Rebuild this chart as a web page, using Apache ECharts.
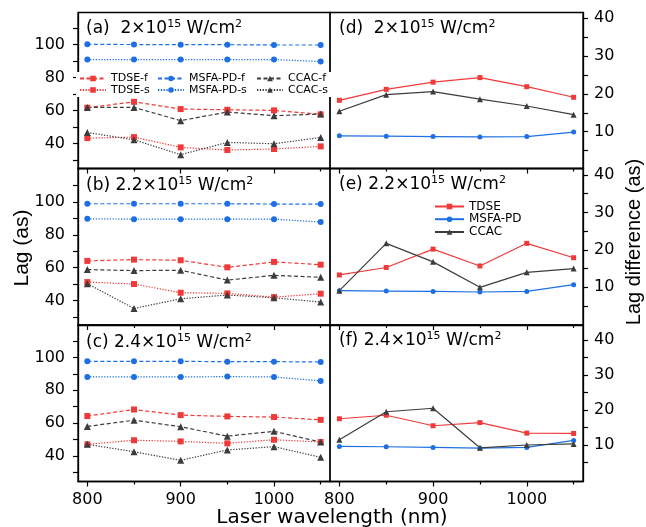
<!DOCTYPE html>
<html><head><meta charset="utf-8">
<script src="https://cdn.jsdelivr.net/npm/echarts@6/dist/echarts.min.js"></script>
<style>html,body{margin:0;padding:0;background:#fff}#c{width:646px;height:527px}</style>
</head><body><div id="c"></div>
<script>
// ---- data ----
const wavelengths = [800, 850, 900, 950, 1000, 1050];
const xTickLabels = [800, 900, 1000];

// (a) 2x10^15
const a_TDSE_f = [61.8, 65.4, 61.0, 60.6, 60.2, 57.8];
const a_TDSE_s = [43.4, 44.0, 37.8, 36.2, 36.8, 38.4];
const a_MSFA_f = [100.2, 100.1, 100.0, 100.0, 99.8, 99.8];
const a_MSFA_s = [91.0, 91.0, 91.0, 91.0, 91.0, 89.8];
const a_CCAC_f = [62.0, 62.0, 54.0, 59.2, 57.0, 58.0];
const a_CCAC_s = [46.8, 42.4, 33.4, 40.8, 40.0, 43.8];
// (b) 2.2x10^15
const b_TDSE_f = [64.1, 64.9, 64.5, 60.2, 63.5, 61.8];
const b_TDSE_s = [51.2, 50.0, 44.7, 44.3, 42.0, 44.1];
const b_MSFA_f = [99.0, 99.0, 99.0, 99.0, 98.8, 98.8];
const b_MSFA_s = [89.8, 89.6, 89.6, 89.6, 89.6, 87.8];
const b_CCAC_f = [58.8, 58.2, 58.4, 52.4, 55.3, 54.1];
const b_CCAC_s = [50.2, 35.1, 41.0, 43.3, 41.6, 39.0];
// (c) 2.4x10^15
const c_TDSE_f = [64.3, 68.3, 64.9, 64.1, 63.7, 62.0];
const c_TDSE_s = [47.1, 49.6, 48.9, 47.7, 49.9, 48.5];
const c_MSFA_f = [97.6, 97.6, 97.6, 97.4, 97.4, 97.2];
const c_MSFA_s = [88.1, 88.1, 88.1, 88.3, 88.1, 85.7];
const c_CCAC_f = [58.0, 61.8, 57.8, 52.1, 55.0, 48.5];
const c_CCAC_s = [47.1, 42.6, 37.4, 43.7, 45.7, 39.2];
// (d) lag difference 2x10^15
const d_TDSE = [18.3, 21.2, 23.1, 24.3, 21.9, 19.1];
const d_MSFA = [8.9, 8.8, 8.7, 8.6, 8.7, 9.9];
const d_CCAC = [15.4, 19.8, 20.6, 18.6, 16.8, 14.5];
// (e) 2.2x10^15
const e_TDSE = [13.3, 15.3, 20.2, 15.7, 21.75, 17.9];
const e_MSFA = [9.1, 9.0, 8.9, 8.75, 8.9, 10.7];
const e_CCAC = [9.1, 21.75, 16.8, 10.0, 14.0, 15.0];
// (f) 2.4x10^15
const f_TDSE = [17.5, 18.5, 15.5, 16.4, 13.4, 13.3];
const f_MSFA = [9.6, 9.5, 9.3, 9.1, 9.3, 11.3];
const f_CCAC = [11.5, 19.5, 20.5, 9.2, 10.0, 10.3];

const lagTicks = [30, 40, 50, 60, 70, 80, 90, 100, 110];
const lagLabels = [40, 60, 80, 100];
const diffTicks = [5, 10, 15, 20, 25, 30, 35, 40];
const diffLabels = [10, 20, 30, 40];

const panelTitles = [
  '(a)  2×10{sup|15} W/cm{sup|2}',
  '(b) 2.2×10{sup|15} W/cm{sup|2}',
  '(c) 2.4×10{sup|15} W/cm{sup|2}',
  '(d)  2×10{sup|15} W/cm{sup|2}',
  '(e) 2.2×10{sup|15} W/cm{sup|2}',
  '(f) 2.4×10{sup|15} W/cm{sup|2}'
];

// ---- styles ----
const RED = '#F03A3A', BLUE = '#1E6FE3', GREY = '#3C3C3C';
const FONT = 'DejaVu Sans';
const DASH = [4, 2.5], DOT = [1.3, 1.5];
const plain = v => String(Math.round(v));

const grids = [
  {left: 78, top: 12.5, width: 252, height: 156},
  {left: 78, top: 168.5, width: 252, height: 156.5},
  {left: 78, top: 325, width: 252, height: 156.5},
  {left: 330, top: 12.5, width: 253, height: 156},
  {left: 330, top: 168.5, width: 253, height: 156.5},
  {left: 330, top: 325, width: 253, height: 156.5}
].map(g => Object.assign(g, {show: true, borderColor: '#000', borderWidth: 1.3, backgroundColor: 'transparent', containLabel: false}));

const yRanges = [[25, 119.5], [25, 120.5], [24.5, 119.7], [0.26, 41.53], [-0.07, 41.74], [-0.43, 44.29]];

const xAxes = [];
for (let i = 0; i < 6; i++) {
  const bottom = (i === 2 || i === 5);
  xAxes.push({
    type: 'value', gridIndex: i, min: 790, max: 1060, position: 'bottom',
    splitLine: {show: false},
    axisLine: {show: true, onZero: false, lineStyle: {color: '#000', width: 1.3}},
    axisTick: {show: true, inside: false, length: 5, customValues: xTickLabels, lineStyle: {color: '#000', width: 1.2}},
    axisLabel: {show: bottom, customValues: xTickLabels, formatter: plain, margin: 10, fontFamily: FONT, fontSize: 16, color: '#000'}
  });
}
for (let i = 0; i < 6; i++) {
  xAxes.push({
    type: 'value', gridIndex: i, min: 790, max: 1060, position: 'bottom',
    splitLine: {show: false},
    axisLine: {show: false, onZero: false},
    axisTick: {show: true, inside: false, length: 3, customValues: [850, 950, 1050], lineStyle: {color: '#000', width: 1.2}},
    axisLabel: {show: false, customValues: [850, 950, 1050]}
  });
}

const yAxes = [];
for (let i = 0; i < 6; i++) {
  const left = i < 3;
  yAxes.push({
    type: 'value', gridIndex: i, min: yRanges[i][0], max: yRanges[i][1],
    position: left ? 'left' : 'right',
    splitLine: {show: false},
    axisLine: {show: true, onZero: false, lineStyle: {color: '#000', width: 1.3}},
    axisTick: {show: true, inside: false, length: 5, customValues: left ? lagTicks : diffTicks, lineStyle: {color: '#000', width: 1.2}},
    axisLabel: {show: true, customValues: left ? lagLabels : diffLabels, formatter: plain, margin: left ? 13 : 11, fontFamily: FONT, fontSize: 16, color: '#000'}
  });
}

function mk(name, idx, ys, color, symbol, size, type) {
  return {
    name: name, type: 'line', xAxisIndex: idx, yAxisIndex: idx,
    data: wavelengths.map((w, k) => [w, ys[k]]),
    symbol: symbol, symbolSize: size,
    lineStyle: {color: color, width: 1.2, type: type},
    itemStyle: {color: color},
    emphasis: {disabled: true},
    animation: false
  };
}

const series = [];
const leftSets = [
  [a_TDSE_f, a_TDSE_s, a_MSFA_f, a_MSFA_s, a_CCAC_f, a_CCAC_s],
  [b_TDSE_f, b_TDSE_s, b_MSFA_f, b_MSFA_s, b_CCAC_f, b_CCAC_s],
  [c_TDSE_f, c_TDSE_s, c_MSFA_f, c_MSFA_s, c_CCAC_f, c_CCAC_s]
];
leftSets.forEach((s, i) => {
  series.push(mk('TDSE-f', i, s[0], RED, 'rect', 6, DASH));
  series.push(mk('TDSE-s', i, s[1], RED, 'rect', 6, DOT));
  series.push(mk('MSFA-PD-f', i, s[2], BLUE, 'circle', 6, DASH));
  series.push(mk('MSFA-PD-s', i, s[3], BLUE, 'circle', 6, DOT));
  series.push(mk('CCAC-f', i, s[4], GREY, 'triangle', 7, DASH));
  series.push(mk('CCAC-s', i, s[5], GREY, 'triangle', 7, DOT));
});
const rightSets = [[d_TDSE, d_MSFA, d_CCAC], [e_TDSE, e_MSFA, e_CCAC], [f_TDSE, f_MSFA, f_CCAC]];
rightSets.forEach((s, j) => {
  const i = j + 3;
  series.push(mk('TDSE', i, s[0], RED, 'rect', 5, 'solid'));
  series.push(mk('MSFA-PD', i, s[1], BLUE, 'circle', 5, 'solid'));
  series.push(mk('CCAC', i, s[2], GREY, 'triangle', 6, 'solid'));
});

function leg(name, left, top, w, fs) {
  return {
    data: [name], left: left, top: top, padding: 0, itemWidth: w, itemHeight: 7,
    selectedMode: false, z: 60,
    textStyle: {fontFamily: FONT, fontSize: fs, color: '#000'}
  };
}
const legends = [
  leg('TDSE-f', 79, 73, 26, 11), leg('MSFA-PD-f', 157, 73, 26, 11), leg('CCAC-f', 256, 73, 26, 11),
  leg('TDSE-s', 79, 84.5, 26, 11), leg('MSFA-PD-s', 157, 84.5, 26, 11), leg('CCAC-s', 256, 84.5, 26, 11),
  leg('TDSE', 434, 200.5, 29, 12), leg('MSFA-PD', 434, 213.2, 29, 12), leg('CCAC', 434, 226, 29, 12)
];

const titlePos = [[86, 28.5], [86, 185.5], [86, 342.5], [339, 28.5], [339, 185], [339, 341]];
const graphics = [
  {type: 'rect', shape: {x: 76, y: 72, width: 255, height: 25}, style: {fill: '#fff'}, z: 50}
];
panelTitles.forEach((t, i) => {
  graphics.push({
    type: 'text', x: titlePos[i][0], y: titlePos[i][1], z: 70,
    style: {
      text: t, fill: '#000', font: '17px "DejaVu Sans"', align: 'left', verticalAlign: 'middle',
      lineHeight: 20,
      rich: {sup: {fontSize: 11, fontFamily: FONT, verticalAlign: 'top', lineHeight: 12, fill: '#000'}}
    }
  });
});
graphics.push({type: 'text', x: 332, y: 518, z: 70,
  style: {text: 'Laser wavelength (nm)', fill: '#000', font: '20px "DejaVu Sans"', align: 'center', verticalAlign: 'middle'}});
graphics.push({type: 'text', x: 22, y: 248, rotation: Math.PI / 2, z: 70,
  style: {text: 'Lag (as)', fill: '#000', font: '21px "Liberation Sans"', align: 'center', verticalAlign: 'middle'}});
graphics.push({type: 'text', x: 634, y: 242, rotation: Math.PI / 2, z: 70,
  style: {text: 'Lag difference (as)', fill: '#000', font: '20px "Liberation Sans"', align: 'center', verticalAlign: 'middle'}});

const chart = echarts.init(document.getElementById('c'), null, {renderer: 'canvas'});
chart.setOption({
  animation: false,
  backgroundColor: '#fff',
  grid: grids,
  xAxis: xAxes,
  yAxis: yAxes,
  legend: legends,
  series: series,
  graphic: graphics
});
</script>
</body></html>
